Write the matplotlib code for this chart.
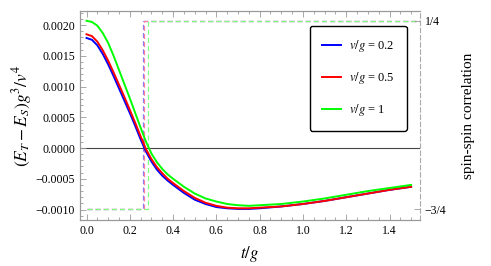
import matplotlib
matplotlib.use('Agg')
import matplotlib.pyplot as plt
from matplotlib.ticker import MultipleLocator, FixedLocator

plt.rcParams['font.family'] = ['Liberation Serif', 'DejaVu Serif']
plt.rcParams['mathtext.fontset'] = 'stix'

# time axis t/g
t = [0.0, 0.025, 0.05, 0.075, 0.1, 0.125, 0.15, 0.175, 0.2, 0.225, 0.25, 0.275,
     0.3, 0.325, 0.35, 0.375, 0.4, 0.45, 0.5, 0.55, 0.6, 0.65, 0.7, 0.75, 0.8,
     0.9, 1.0, 1.1, 1.2, 1.3, 1.4, 1.5]

# (E_T - E_S) g^3 / v^4
e_02 = [0.00179, 0.00176, 0.00167, 0.00153, 0.00136, 0.00117, 0.00097, 0.00077,
        0.00057, 0.00036, 0.00014, -0.00006, -0.00022, -0.00035, -0.00045,
        -0.00053, -0.00060, -0.00073, -0.00084, -0.00091, -0.00096, -0.00098,
        -0.00099, -0.00099, -0.00098, -0.00095, -0.00091, -0.00086, -0.00080,
        -0.00074, -0.00068, -0.00063]
e_05 = [0.00185, 0.00182, 0.00173, 0.00159, 0.00142, 0.00123, 0.00103, 0.00083,
        0.00062, 0.00041, 0.00019, -0.00002, -0.00018, -0.00031, -0.00041,
        -0.00050, -0.00057, -0.00070, -0.00081, -0.00089, -0.00094, -0.00097,
        -0.00098, -0.00098, -0.00097, -0.00095, -0.00091, -0.00086, -0.00080,
        -0.00074, -0.00068, -0.00063]
e_1 = [0.00207, 0.00205, 0.00199, 0.00187, 0.00171, 0.00150, 0.00127, 0.00104,
       0.00081, 0.00057, 0.00033, 0.00010, -0.00009, -0.00023, -0.00034,
       -0.00043, -0.00050, -0.00063, -0.00074, -0.00082, -0.00087, -0.00091,
       -0.00093, -0.00094, -0.00093, -0.00091, -0.00087, -0.00082, -0.00076,
       -0.00070, -0.00065, -0.00060]

# spin-spin correlation jumps from -3/4 to 1/4
jump_t = [0.262, 0.264, 0.283]
spin_before = -0.75
spin_after = 0.25

labels = [r'$v/g$ = 0.2', r'$v/g$ = 0.5', r'$v/g$ = 1']
colors = ['#0000ff', '#ff0000', '#00ff00']
dash_colors = ['#8080ff', '#ff7f9f', '#80ff80']

fig = plt.figure(figsize=(4.91, 2.66), dpi=100)
ax = fig.add_axes([0.163, 0.173, 0.692, 0.786])
ax2 = ax.twinx()

x_end = 1.54
for jt, c in zip(jump_t, dash_colors):
    ax2.plot([0.0, jt, jt, x_end], [spin_before, spin_before, spin_after, spin_after],
             ls=(0, (4, 2.5)), lw=0.9, color=c, zorder=1)

ax.axhline(0, color='#444444', lw=0.8, zorder=1)
for y, c, lab in zip([e_02, e_05, e_1], colors, labels):
    ax.plot(t, y, color=c, lw=1.4, label=lab, zorder=3)

ax.set_xlim(-0.03, x_end)
ax.set_ylim(-0.00117, 0.00223)
ax2.set_ylim(-0.808, 0.303)

ax.xaxis.set_major_locator(MultipleLocator(0.2))
ax.xaxis.set_minor_locator(MultipleLocator(0.05))
ax.yaxis.set_major_locator(MultipleLocator(0.0005))
ax.yaxis.set_minor_locator(MultipleLocator(0.0001))
ax.xaxis.set_major_formatter(plt.FuncFormatter(lambda v, p: f'{v:.1f}'))
ax.yaxis.set_major_formatter(plt.FuncFormatter(
    lambda v, p: f'{v:.4f}'.replace('-', '\u2212') if abs(v) > 1e-12 else '0.0000'))

ax.tick_params(which='both', direction='in', top=True, right=False, colors='#999999',
               labelcolor='black', labelsize=8.5, width=0.6)
ax.tick_params(which='major', length=4)
ax.tick_params(which='minor', length=2)

ax2.yaxis.set_major_locator(FixedLocator([spin_before, spin_after]))
ax2.set_yticklabels(['\u22123/4', '1/4'])
ax2.tick_params(direction='in', length=4, colors='#999999', labelcolor='black',
                labelsize=8.5, width=0.6)

for a in (ax, ax2):
    for s in ('left', 'top', 'bottom'):
        a.spines[s].set_color('#999999')
        a.spines[s].set_linewidth(0.8)
ax.spines['right'].set_visible(False)
ax2.spines['right'].set_color('#aaaaaa')
ax2.spines['right'].set_linestyle((0, (4, 2.5)))
ax2.spines['right'].set_linewidth(0.8)

ax.set_xlabel(r'$t/g$', fontsize=12, labelpad=5)
ax.set_ylabel(r'$(E_T-E_S)g^3/v^4$', fontsize=12.5, labelpad=1)
ax2.set_ylabel('spin-spin correlation', fontsize=11, labelpad=11)

leg = ax.legend(loc='upper right', bbox_to_anchor=(0.962, 0.928), fontsize=9,
                frameon=True, fancybox=True, handlelength=1.45, labelspacing=1.28,
                borderpad=1.0, handletextpad=0.65, borderaxespad=0)
leg.get_frame().set_edgecolor('black')
leg.get_frame().set_linewidth(1.0)
leg.get_frame().set_alpha(1.0)
ax.set_zorder(ax2.get_zorder() + 1)
ax.patch.set_visible(False)

fig.savefig('out.png', dpi=100)
